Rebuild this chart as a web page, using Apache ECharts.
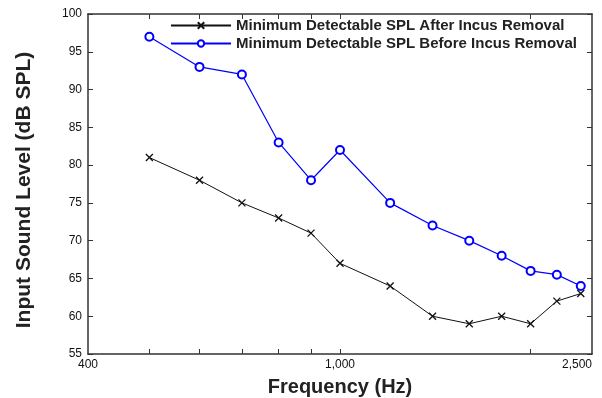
<!DOCTYPE html>
<html>
<head>
<meta charset="utf-8">
<script src="https://cdn.jsdelivr.net/npm/echarts@6/dist/echarts.min.js"></script>
<style>
html,body{margin:0;padding:0;background:#fff;}
#chart{width:602px;height:398px;}
</style>
</head>
<body>
<div id="chart"></div>
<script>
var frequencies = [500, 600, 700, 800, 900, 1000, 1200, 1400, 1600, 1800, 2000, 2200, 2400];
var afterRemoval = [81, 78, 75, 73, 71, 67, 64, 60, 59, 60, 59, 62, 63];
var beforeRemoval = [97, 93, 92, 83, 78, 82, 75, 72, 70, 68, 66, 65.5, 64];
var xLabelValues = [400, 1000, 2500];
var xTickValues = [500, 600, 700, 800, 900, 1000, 2000];
var seriesNames = ['Minimum Detectable SPL After Incus Removal', 'Minimum Detectable SPL Before Incus Removal'];

function pairs(xs, ys) { return xs.map(function (x, i) { return [x, ys[i]]; }); }

var FONT = 'Liberation Sans';
var frame = { show: true, lineStyle: { color: '#333', width: 1.5 } };
var tick = { show: true, inside: true, length: 5, lineStyle: { color: '#333', width: 1 } };

var chart = echarts.init(document.getElementById('chart'));
chart.setOption({
  animation: false,
  backgroundColor: '#fff',
  grid: { left: 88, right: 10, top: 14, bottom: 44, containLabel: false, outerBoundsMode: 'none' },
  legend: {
    orient: 'vertical',
    left: 165,
    top: 13,
    itemWidth: 60,
    itemHeight: 8,
    itemGap: 3,
    textStyle: { fontFamily: FONT, fontWeight: 'bold', fontSize: 15, color: '#222' },
    data: seriesNames
  },
  xAxis: [{
    type: 'log', logBase: 10, min: 400, max: 2500,
    axisLine: frame,
    axisTick: Object.assign({ customValues: xTickValues }, tick),
    axisLabel: {
      customValues: xLabelValues, fontFamily: FONT, fontSize: 12, color: '#111', margin: 5,
      alignMaxLabel: 'right',
      formatter: function (v) { return Number(v).toLocaleString('en-US'); }
    },
    splitLine: { show: false },
    name: 'Frequency (Hz)', nameLocation: 'middle', nameGap: 23,
    nameTextStyle: { fontFamily: FONT, fontWeight: 'bold', fontSize: 20, color: '#222' }
  }, {
    type: 'log', logBase: 10, min: 400, max: 2500, position: 'top',
    axisLine: frame,
    axisTick: Object.assign({ customValues: xTickValues }, tick),
    axisLabel: { show: false },
    splitLine: { show: false }
  }],
  yAxis: [{
    type: 'value', min: 55, max: 100, interval: 5,
    axisLine: frame,
    axisTick: tick,
    axisLabel: { fontFamily: FONT, fontSize: 12, color: '#111', margin: 6 },
    splitLine: { show: false },
    name: 'Input Sound Level (dB SPL)', nameLocation: 'middle', nameGap: 53,
    nameTextStyle: { fontFamily: FONT, fontWeight: 'bold', fontSize: 21, color: '#222', padding: [0, 12, 0, 0] }
  }, {
    type: 'value', min: 55, max: 100, interval: 5, position: 'right',
    axisLine: frame,
    axisTick: tick,
    axisLabel: { show: false },
    splitLine: { show: false }
  }],
  series: [{
    name: seriesNames[0], type: 'line',
    data: pairs(frequencies, afterRemoval),
    symbol: 'path://M0,0L10,10M10,0L0,10', symbolSize: 7,
    lineStyle: { color: '#111', width: 1 },
    itemStyle: { color: '#111', borderColor: '#111', borderWidth: 1.3 }
  }, {
    name: seriesNames[1], type: 'line',
    data: pairs(frequencies, beforeRemoval),
    symbol: 'emptyCircle', symbolSize: 8,
    lineStyle: { color: '#0000ff', width: 1.2 },
    itemStyle: { color: '#0000ff', borderColor: '#0000ff', borderWidth: 1.3 }
  }]
});
</script>
</body>
</html>
